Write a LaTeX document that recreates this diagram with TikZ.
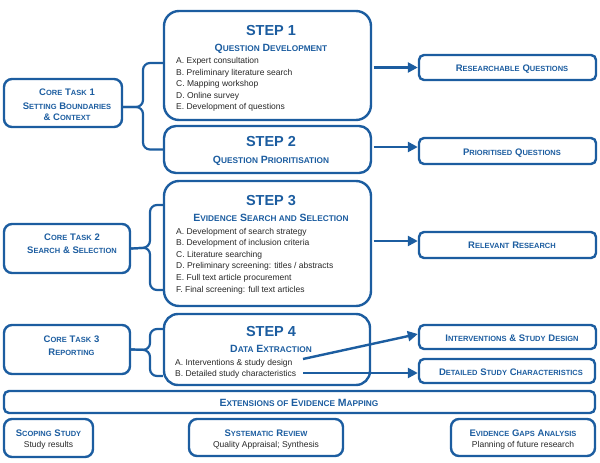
\documentclass[tikz,border=0pt]{standalone}
\usepackage{fontspec}
\setmainfont{Liberation Sans}
\usetikzlibrary{arrows.meta}
\definecolor{bl}{RGB}{28,93,160}
\definecolor{tx}{RGB}{40,40,40}
\newcommand\Ta[1]{{\fontsize{10.5}{12}\selectfont #1}}
\newcommand\Tb[1]{{\fontsize{8.3}{10}\selectfont #1}}
\newcommand\La[1]{{\fontsize{9.5}{11}\selectfont #1}}
\newcommand\Lb[1]{{\fontsize{7.5}{9}\selectfont #1}}
\newcommand\bx[6]{\node[box=#6,minimum width={(#4-#2)*1pt},minimum height={(#5-#3)*1pt}] (#1) at ({(#2+#4)/2},{(#3+#5)/2}) {};}
\begin{document}
\begin{tikzpicture}[x=1pt,y=-1pt,
 box/.style={draw=bl,line width=2.4pt,rounded corners=#1,inner sep=0pt,fill=white},
 box/.default=5pt,
 brc/.style={draw=bl,line width=2.2pt,rounded corners=7pt},
 arr/.style={draw=bl,line width=2.4pt,-{Triangle[length=10pt,width=10pt]}},
 big/.style={font=\fontsize{14.5}{16}\selectfont\bfseries,text=bl,anchor=base,inner sep=0pt},
 ttl/.style={text=bl,anchor=base,inner sep=0pt,font=\bfseries},
 itm/.style={text=tx,anchor=base west,inner sep=0pt,font=\fontsize{8.5}{10}\selectfont},
 sub/.style={text=tx,anchor=base,inner sep=0pt,font=\fontsize{8.5}{10}\selectfont}]
\useasboundingbox (0,0) rectangle (600,463);
% boxes
\bx{step1}{164}{11}{371}{120}{15pt}
\bx{step2}{164}{126}{371}{173}{12pt}
\bx{step3}{164}{181}{371}{306}{15pt}
\bx{step4}{164}{314}{370}{385}{14pt}
\bx{ext}{4}{391}{595}{413}{5pt}
\bx{scop}{4}{419}{93}{457}{8pt}
\bx{sysr}{189}{419}{343}{456}{8pt}
\bx{gaps}{451}{419}{595}{456}{8pt}
\bx{core1}{4}{79}{122}{127}{8pt}
\bx{core2}{4}{224}{130}{273}{8pt}
\bx{core3}{4}{325}{130}{374}{8pt}
\bx{res}{419}{55}{596}{80}{5pt}
\bx{prio}{419}{138}{596}{164}{5pt}
\bx{rel}{419}{232}{596}{258}{5pt}
\bx{int}{419}{325}{596}{349}{5pt}
\bx{det}{419}{359}{595}{383}{5pt}
% step texts
\node[big] (s1h) at (271,35) {STEP 1};
\node[ttl] (s1t) at (271,51.7) {\Ta{Q}\Tb{UESTION} \Ta{D}\Tb{EVELOPMENT}};
\foreach \t [count=\i] in {A. Expert consultation,B. Preliminary literature search,C. Mapping workshop,D. Online survey,E. Development of questions}
  \node[itm] (s1i\i) at (176,{63.5+(\i-1)*11.6}) {\t};
\node[big] (s2h) at (271,146.7) {STEP 2};
\node[ttl] (s2t) at (271,163.5) {\Ta{Q}\Tb{UESTION} \Ta{P}\Tb{RIORITISATION}};
\node[big] (s3h) at (271,205.7) {STEP 3};
\node[ttl] (s3t) at (271,221.8) {\Ta{E}\Tb{VIDENCE} \Ta{S}\Tb{EARCH AND} \Ta{S}\Tb{ELECTION}};
\foreach \t [count=\i] in {A. Development of search strategy,B. Development of inclusion criteria,C. Literature searching,D. Preliminary screening: titles / abstracts,E. Full text article procurement,F. Final screening: full text articles}
  \node[itm] (s3i\i) at (176,{234+(\i-1)*11.6}) {\t};
\node[big] (s4h) at (271,336.7) {STEP 4};
\node[ttl] (s4t) at (271,352.5) {\Ta{D}\Tb{ATA} \Ta{E}\Tb{XTRACTION}};
\node[itm] (s4i1) at (175,365) {A. Interventions \& study design};
\node[itm] (s4i2) at (175,376) {B. Detailed study characteristics};
% core texts
\node[ttl] (c1a) at (67,95.6) {\La{C}\Lb{ORE} \La{T}\Lb{ASK} \La{1}};
\node[ttl] (c1b) at (67,109) {\La{S}\Lb{ETTING} \La{B}\Lb{OUNDARIES}};
\node[ttl] (c1c) at (67,120) {\La{\&} \La{C}\Lb{ONTEXT}};
\node[ttl] (c2a) at (72,240.6) {\La{C}\Lb{ORE} \La{T}\Lb{ASK} \La{2}};
\node[ttl] (c2b) at (72,253.3) {\La{S}\Lb{EARCH} \La{\& S}\Lb{ELECTION}};
\node[ttl] (c3a) at (71.5,342.3) {\La{C}\Lb{ORE} \La{T}\Lb{ASK} \La{3}};
\node[ttl] (c3b) at (71.5,355.6) {\La{R}\Lb{EPORTING}};
% right texts
\node[ttl] (rt1) at (512,71.3) {\La{R}\Lb{ESEARCHABLE} \La{Q}\Lb{UESTIONS}};
\node[ttl] (rt2) at (512,155) {\La{P}\Lb{RIORITISED} \La{Q}\Lb{UESTIONS}};
\node[ttl] (rt3) at (512,248) {\La{R}\Lb{ELEVANT} \La{R}\Lb{ESEARCH}};
\node[ttl] (rt4) at (512,341.3) {\La{I}\Lb{NTERVENTIONS} \La{\& S}\Lb{TUDY} \La{D}\Lb{ESIGN}};
\node[ttl] (rt5) at (511,375.3) {\La{D}\Lb{ETAILED} \La{S}\Lb{TUDY} \La{C}\Lb{HARACTERISTICS}};
% extensions
\node[ttl] (et) at (299,406.3) {\Ta{E}\Tb{XTENSIONS OF} \Ta{E}\Tb{VIDENCE} \Ta{M}\Tb{APPING}};
\node[ttl] (b1t) at (48.5,436) {\La{S}\Lb{COPING} \La{S}\Lb{TUDY}};
\node[sub] (b1s) at (48.5,447.5) {Study results};
\node[ttl] (b2t) at (266,436) {\La{S}\Lb{YSTEMATIC} \La{R}\Lb{EVIEW}};
\node[sub] (b2s) at (266,447.7) {Quality Appraisal; Synthesis};
\node[ttl] (b3t) at (523,436) {\La{E}\Lb{VIDENCE} \La{G}\Lb{APS} \La{A}\Lb{NALYSIS}};
\node[sub] (b3s) at (523,447.7) {Planning of future research};
% braces
\coordinate (k1) at (143,107);
\coordinate (k2) at (150,247.5);
\coordinate (k3) at (150,350);
\draw[brc] ([yshift=2.5pt]step1.west) -| (k1) -- ([yshift=-4pt]core1.east);
\draw[brc] (step2.west) -| (k1) -- ([yshift=-4pt]core1.east);
\draw[brc] ([yshift=38.5pt]step3.west) -| (k2) -- (core2.east);
\draw[brc] ([yshift=-46.5pt]step3.west) -| (k2) -- (core2.east);
\draw[brc] ([yshift=20.5pt]step4.west) -| (k3) -- (core3.east);
\draw[brc] ([yshift=-26.5pt]step4.west) -| (k3) -- (core3.east);
% arrows
\draw[arr,shorten <=1.5pt] (res.west -| step1.east) -- (res.west);
\draw[arr,shorten <=1.5pt] ([yshift=4pt]prio.west -| step2.east) -- ([yshift=4pt]prio.west);
\draw[arr,shorten <=1.5pt] ([yshift=4pt]rel.west -| step3.east) -- ([yshift=4pt]rel.west);
\coordinate (a4) at (303,359);
\coordinate (b4) at (303,373);
\draw[arr] (a4) -- ([yshift=3pt]int.west);
\draw[arr] (b4) -- (b4 -| det.west);
\end{tikzpicture}
\end{document}
